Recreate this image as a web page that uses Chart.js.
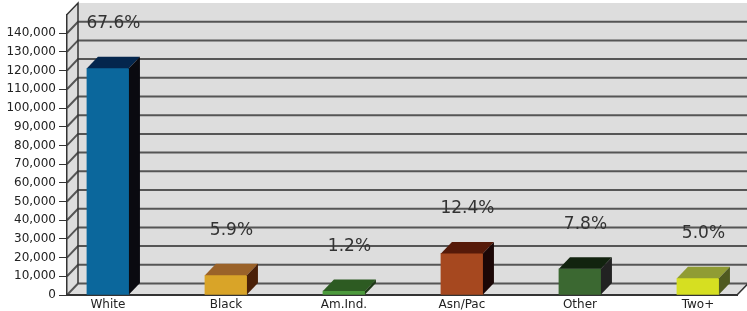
<!DOCTYPE html>
<html>
<head>
<meta charset="utf-8">
<script src="https://cdn.jsdelivr.net/npm/chart.js"></script>
<style>
  html, body { margin: 0; padding: 0; background: #fff; }
  canvas { display: block; }
</style>
</head>
<body>
<canvas id="myChart" width="747" height="311"></canvas>
<script>
  // data
  const categories = ['White', 'Black', 'Am.Ind.', 'Asn/Pac', 'Other', 'Two+'];
  const population = [121200, 10580, 2150, 22230, 13990, 8970];
  const shares = ['67.6%', '5.9%', '1.2%', '12.4%', '7.8%', '5.0%'];
  const yTicks = [0, 10000, 20000, 30000, 40000, 50000, 60000, 70000,
                  80000, 90000, 100000, 110000, 120000, 130000, 140000];

  // bar colours: front / top / side
  const frontColors = ['#0b679c', '#d9a428', '#4c9a3c', '#a6481f', '#3b6831', '#d6df21'];
  const topColors   = ['#04264d', '#9a6229', '#2d5b22', '#561a09', '#12230f', '#909c34'];
  const sideColors  = ['#0a0a10', '#4a2008', '#1e3a16', '#1b0706', '#222222', '#4f5a20'];

  const DX = 11, DY = 11.5;   // 3d depth
  const FONT = '"DejaVu Sans", Verdana, sans-serif';

  const walls = {
    id: 'walls',
    beforeDraw(chart) {
      const ctx = chart.ctx;
      const y = chart.scales.y;
      const a = chart.chartArea;
      const W = chart.width;
      const top = a.top, bot = a.bottom, L = a.left;
      ctx.save();
      ctx.fillStyle = '#dddddd';
      // back wall
      ctx.fillRect(L + DX, top - DY, W - L - DX, bot - top);
      // left wall
      ctx.beginPath();
      ctx.moveTo(L, top); ctx.lineTo(L + DX, top - DY);
      ctx.lineTo(L + DX, bot - DY); ctx.lineTo(L, bot);
      ctx.closePath(); ctx.fill();
      // floor
      ctx.beginPath();
      ctx.moveTo(L, bot); ctx.lineTo(a.right, bot);
      ctx.lineTo(a.right + DX, bot - DY); ctx.lineTo(W, bot - DY);
      ctx.lineTo(L + DX, bot - DY);
      ctx.closePath(); ctx.fill();

      // grid lines on back wall + diagonals on left wall
      ctx.strokeStyle = '#555555';
      ctx.lineWidth = 2;
      yTicks.forEach(v => {
        const py = y.getPixelForValue(v);
        ctx.beginPath();
        ctx.moveTo(L, py);
        ctx.lineTo(L + DX, py - DY);
        ctx.lineTo(W, py - DY);
        ctx.stroke();
      });
      ctx.lineWidth = 1.5;
      ctx.strokeStyle = '#333333';
      ctx.beginPath();
      ctx.moveTo(L, top); ctx.lineTo(L + DX, top - DY);
      ctx.lineTo(L + DX, bot - DY);
      ctx.stroke();
      // floor right edge
      ctx.beginPath();
      ctx.moveTo(a.right, bot); ctx.lineTo(a.right + DX, bot - DY);
      ctx.stroke();
      ctx.restore();
    }
  };

  const bars3d = {
    id: 'bars3d',
    afterDatasetsDraw(chart) {
      const ctx = chart.ctx;
      const meta = chart.getDatasetMeta(0);
      ctx.save();
      meta.data.forEach((bar, i) => {
        const { x, y, base, width } = bar.getProps(['x', 'y', 'base', 'width'], true);
        const l = x - width / 2, r = x + width / 2;
        // top face
        ctx.fillStyle = topColors[i];
        ctx.beginPath();
        ctx.moveTo(l, y); ctx.lineTo(l + DX, y - DY);
        ctx.lineTo(r + DX, y - DY); ctx.lineTo(r, y);
        ctx.closePath(); ctx.fill();
        // side face
        ctx.fillStyle = sideColors[i];
        ctx.beginPath();
        ctx.moveTo(r, y); ctx.lineTo(r + DX, y - DY);
        ctx.lineTo(r + DX, base - DY); ctx.lineTo(r, base);
        ctx.closePath(); ctx.fill();
        // share label
        ctx.fillStyle = '#333333';
        ctx.font = '17px ' + FONT;
        ctx.textAlign = 'center';
        ctx.textBaseline = 'middle';
        ctx.fillText(shares[i], x + DX / 2, y - 44.5);
      });
      ctx.restore();
    }
  };

  const ctx = document.getElementById('myChart');

  new Chart(ctx, {
    type: 'bar',
    data: {
      datasets: [{
        data: population.map((v, i) => ({ x: i, y: v })),
        backgroundColor: frontColors,
        borderWidth: 0,
        barThickness: 42
      }]
    },
    options: {
      responsive: false,
      animation: false,
      devicePixelRatio: 1,
      layout: { padding: { left: 0, top: 14.5, right: 10, bottom: 0 } },
      plugins: { legend: { display: false }, tooltip: { enabled: false } },
      scales: {
        x: {
          type: 'linear',
          offset: false,
          min: -0.347,
          max: 5.331,
          afterBuildTicks: s => { s.ticks = categories.map((c, i) => ({ value: i })); },
          afterFit: s => { s.height = 16; },
          grid: { display: false, drawTicks: false },
          border: { display: true, color: '#333333', width: 2 },
          ticks: {
            padding: 3,
            autoSkip: false,
            maxRotation: 0,
            color: '#222222',
            font: { family: FONT, size: 12 },
            callback: v => categories[v]
          }
        },
        y: {
          min: 0,
          max: 150000,
          afterBuildTicks: s => { s.ticks = yTicks.map(v => ({ value: v })); },
          afterFit: s => { s.width = 67; },
          grid: { display: true, drawOnChartArea: false, drawTicks: true, tickLength: 8, color: '#333333' },
          border: { display: true, color: '#333333', width: 1.5 },
          ticks: {
            padding: 3,
            color: '#222222',
            font: { family: FONT, size: 12 },
            callback: v => v.toLocaleString('en-US')
          }
        }
      }
    },
    plugins: [walls, bars3d]
  });
</script>
</body>
</html>
